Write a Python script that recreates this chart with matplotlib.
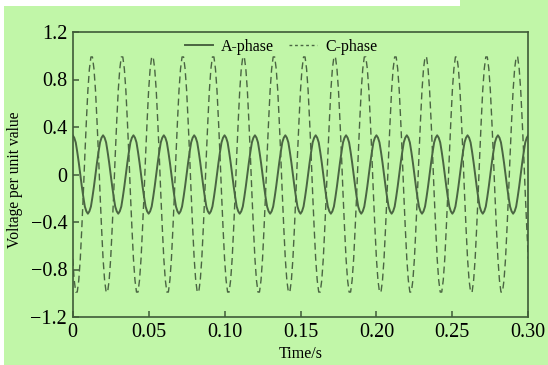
import numpy as np
import matplotlib
matplotlib.use("Agg")
import matplotlib.pyplot as plt
from matplotlib.patches import Rectangle

# time axis (s), sampled every 1 ms from 0 to 0.30
time_s = np.linspace(0.0, 0.30, 301)

# A-phase voltage (per unit), values every 1 ms
a_phase = [
    0.33, 0.31, 0.27, 0.19, 0.10, 0.00, -0.10, -0.19, -0.27, -0.31, -0.33, -0.31, -0.27, -0.19, -0.10, 0.00, 0.10, 0.19, 0.27, 0.31,
    0.33, 0.31, 0.27, 0.19, 0.10, 0.00, -0.10, -0.19, -0.27, -0.31, -0.33, -0.31, -0.27, -0.19, -0.10, 0.00, 0.10, 0.19, 0.27, 0.31,
    0.33, 0.31, 0.27, 0.19, 0.10, 0.00, -0.10, -0.19, -0.27, -0.31, -0.33, -0.31, -0.27, -0.19, -0.10, 0.00, 0.10, 0.19, 0.27, 0.31,
    0.33, 0.31, 0.27, 0.19, 0.10, 0.00, -0.10, -0.19, -0.27, -0.31, -0.33, -0.31, -0.27, -0.19, -0.10, 0.00, 0.10, 0.19, 0.27, 0.31,
    0.33, 0.31, 0.27, 0.19, 0.10, 0.00, -0.10, -0.19, -0.27, -0.31, -0.33, -0.31, -0.27, -0.19, -0.10, 0.00, 0.10, 0.19, 0.27, 0.31,
    0.33, 0.31, 0.27, 0.19, 0.10, 0.00, -0.10, -0.19, -0.27, -0.31, -0.33, -0.31, -0.27, -0.19, -0.10, 0.00, 0.10, 0.19, 0.27, 0.31,
    0.33, 0.31, 0.27, 0.19, 0.10, 0.00, -0.10, -0.19, -0.27, -0.31, -0.33, -0.31, -0.27, -0.19, -0.10, 0.00, 0.10, 0.19, 0.27, 0.31,
    0.33, 0.31, 0.27, 0.19, 0.10, 0.00, -0.10, -0.19, -0.27, -0.31, -0.33, -0.31, -0.27, -0.19, -0.10, 0.00, 0.10, 0.19, 0.27, 0.31,
    0.33, 0.31, 0.27, 0.19, 0.10, 0.00, -0.10, -0.19, -0.27, -0.31, -0.33, -0.31, -0.27, -0.19, -0.10, 0.00, 0.10, 0.19, 0.27, 0.31,
    0.33, 0.31, 0.27, 0.19, 0.10, 0.00, -0.10, -0.19, -0.27, -0.31, -0.33, -0.31, -0.27, -0.19, -0.10, 0.00, 0.10, 0.19, 0.27, 0.31,
    0.33, 0.31, 0.27, 0.19, 0.10, 0.00, -0.10, -0.19, -0.27, -0.31, -0.33, -0.31, -0.27, -0.19, -0.10, 0.00, 0.10, 0.19, 0.27, 0.31,
    0.33, 0.31, 0.27, 0.19, 0.10, 0.00, -0.10, -0.19, -0.27, -0.31, -0.33, -0.31, -0.27, -0.19, -0.10, 0.00, 0.10, 0.19, 0.27, 0.31,
    0.33, 0.31, 0.27, 0.19, 0.10, 0.00, -0.10, -0.19, -0.27, -0.31, -0.33, -0.31, -0.27, -0.19, -0.10, 0.00, 0.10, 0.19, 0.27, 0.31,
    0.33, 0.31, 0.27, 0.19, 0.10, 0.00, -0.10, -0.19, -0.27, -0.31, -0.33, -0.31, -0.27, -0.19, -0.10, 0.00, 0.10, 0.19, 0.27, 0.31,
    0.33, 0.31, 0.27, 0.19, 0.10, 0.00, -0.10, -0.19, -0.27, -0.31, -0.33, -0.31, -0.27, -0.19, -0.10, 0.00, 0.10, 0.19, 0.27, 0.31,
    0.33,
]

# C-phase voltage (per unit), values every 1 ms
c_phase = [
    -0.71, -0.89, -0.99, -0.99, -0.89, -0.71, -0.45, -0.16, 0.16, 0.45, 0.71, 0.89, 0.99, 0.99, 0.89, 0.71, 0.45, 0.16, -0.16, -0.45,
    -0.71, -0.89, -0.99, -0.99, -0.89, -0.71, -0.45, -0.16, 0.16, 0.45, 0.71, 0.89, 0.99, 0.99, 0.89, 0.71, 0.45, 0.16, -0.16, -0.45,
    -0.71, -0.89, -0.99, -0.99, -0.89, -0.71, -0.45, -0.16, 0.16, 0.45, 0.71, 0.89, 0.99, 0.99, 0.89, 0.71, 0.45, 0.16, -0.16, -0.45,
    -0.71, -0.89, -0.99, -0.99, -0.89, -0.71, -0.45, -0.16, 0.16, 0.45, 0.71, 0.89, 0.99, 0.99, 0.89, 0.71, 0.45, 0.16, -0.16, -0.45,
    -0.71, -0.89, -0.99, -0.99, -0.89, -0.71, -0.45, -0.16, 0.16, 0.45, 0.71, 0.89, 0.99, 0.99, 0.89, 0.71, 0.45, 0.16, -0.16, -0.45,
    -0.71, -0.89, -0.99, -0.99, -0.89, -0.71, -0.45, -0.16, 0.16, 0.45, 0.71, 0.89, 0.99, 0.99, 0.89, 0.71, 0.45, 0.16, -0.16, -0.45,
    -0.71, -0.89, -0.99, -0.99, -0.89, -0.71, -0.45, -0.16, 0.16, 0.45, 0.71, 0.89, 0.99, 0.99, 0.89, 0.71, 0.45, 0.16, -0.16, -0.45,
    -0.71, -0.89, -0.99, -0.99, -0.89, -0.71, -0.45, -0.16, 0.16, 0.45, 0.71, 0.89, 0.99, 0.99, 0.89, 0.71, 0.45, 0.16, -0.16, -0.45,
    -0.71, -0.89, -0.99, -0.99, -0.89, -0.71, -0.45, -0.16, 0.16, 0.45, 0.71, 0.89, 0.99, 0.99, 0.89, 0.71, 0.45, 0.16, -0.16, -0.45,
    -0.71, -0.89, -0.99, -0.99, -0.89, -0.71, -0.45, -0.16, 0.16, 0.45, 0.71, 0.89, 0.99, 0.99, 0.89, 0.71, 0.45, 0.16, -0.16, -0.45,
    -0.71, -0.89, -0.99, -0.99, -0.89, -0.71, -0.45, -0.16, 0.16, 0.45, 0.71, 0.89, 0.99, 0.99, 0.89, 0.71, 0.45, 0.16, -0.16, -0.45,
    -0.71, -0.89, -0.99, -0.99, -0.89, -0.71, -0.45, -0.16, 0.16, 0.45, 0.71, 0.89, 0.99, 0.99, 0.89, 0.71, 0.45, 0.16, -0.16, -0.45,
    -0.71, -0.89, -0.99, -0.99, -0.89, -0.71, -0.45, -0.16, 0.16, 0.45, 0.71, 0.89, 0.99, 0.99, 0.89, 0.71, 0.45, 0.16, -0.16, -0.45,
    -0.71, -0.89, -0.99, -0.99, -0.89, -0.71, -0.45, -0.16, 0.16, 0.45, 0.71, 0.89, 0.99, 0.99, 0.89, 0.71, 0.45, 0.16, -0.16, -0.45,
    -0.71, -0.89, -0.99, -0.99, -0.89, -0.71, -0.45, -0.16, 0.16, 0.45, 0.71, 0.89, 0.99, 0.99, 0.89, 0.71, 0.45, 0.16, -0.16, -0.45,
    -0.71,
]

x_ticks = [0, 0.05, 0.10, 0.15, 0.20, 0.25, 0.30]
x_tick_labels = ["0", "0.05", "0.10", "0.15", "0.20", "0.25", "0.30"]
y_ticks = [-1.2, -0.8, -0.4, 0, 0.4, 0.8, 1.2]
y_tick_labels = ["\u22121.2", "\u22120.8", "\u22120.4", "0", "0.4", "0.8", "1.2"]

BG = "#c1f6a8"
LINE = "#4a6542"
SPINE = "#3f5a38"

plt.rcParams["font.family"] = ["Liberation Serif", "DejaVu Serif"]

fig = plt.figure(figsize=(5.48, 3.65), dpi=100)
fig.patch.set_facecolor(BG)
# thin white edges at the top-left of the scanned picture
fig.patches.append(Rectangle((0, 0), 4 / 548, 1, transform=fig.transFigure,
                             facecolor="white", edgecolor="none", zorder=-1))
fig.patches.append(Rectangle((0, 1 - 6 / 365), 460 / 548, 6 / 365, transform=fig.transFigure,
                             facecolor="white", edgecolor="none", zorder=-1))

ax = fig.add_axes([72.7 / 548, 1 - 317 / 365, (528.3 - 72.7) / 548, (317 - 32) / 365])
ax.set_facecolor(BG)

ax.plot(time_s, a_phase, color=LINE, lw=1.4, ls="-", label="A-phase")
ax.plot(time_s, c_phase, color=LINE, lw=1.0, ls=(0, (5, 3)), label="C-phase")

ax.set_xlim(0, 0.30)
ax.set_ylim(-1.2, 1.2)
ax.set_xticks(x_ticks)
ax.set_xticklabels(x_tick_labels)
ax.set_yticks(y_ticks)
ax.set_yticklabels(y_tick_labels)

for s in ax.spines.values():
    s.set_color(SPINE)
    s.set_linewidth(1.2)

ax.tick_params(axis="both", direction="in", length=4, width=1.1, color=SPINE,
               labelsize=14.5, labelcolor="black", top=False, right=False)
ax.tick_params(axis="x", pad=4)
ax.tick_params(axis="y", pad=4)

ax.set_xlabel("Time/s", fontsize=11.5, labelpad=3)
fig.text(15 / 548, 1 - 180 / 365, "Voltage per unit value", rotation=90,
         ha="center", va="center", fontsize=11.2)

leg = fig.legend(handles=ax.get_lines(), labels=["A-phase", "C-phase"],
                 loc="center", bbox_to_anchor=(281 / 548, 1 - 46.7 / 365),
                 ncol=2, frameon=False, fontsize=11.5, handlelength=1.8,
                 handletextpad=0.5, columnspacing=0.9)
leg.get_lines()[1].set_linestyle((0, (2, 2)))

fig.savefig("out.png", dpi=100, facecolor=fig.get_facecolor())
